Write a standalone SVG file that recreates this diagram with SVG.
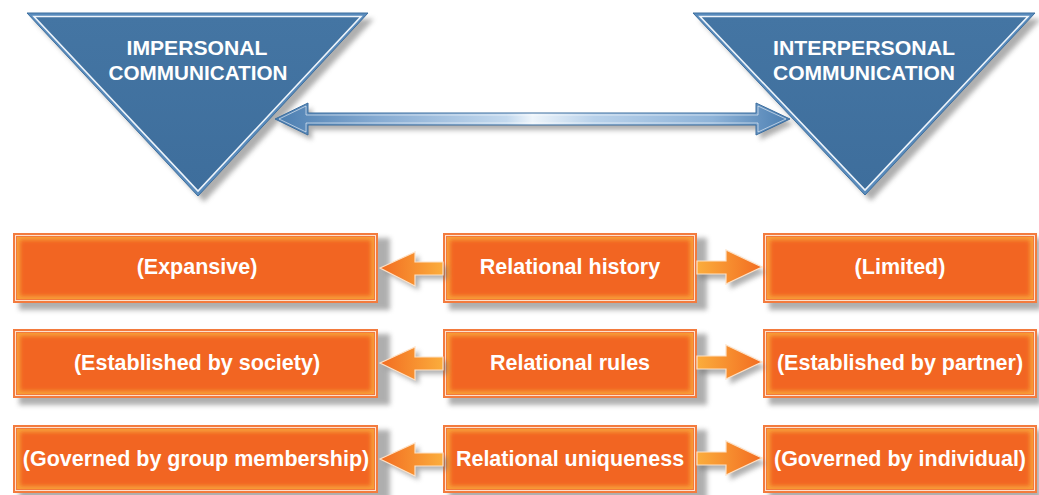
<svg xmlns="http://www.w3.org/2000/svg" width="1039" height="495" viewBox="0 0 1039 495">
  <style>
    .tri-text{font-family:"Liberation Sans",Arial,sans-serif;font-weight:bold;font-size:21px;fill:#ffffff;text-anchor:middle}
    .lbl{font-family:"Liberation Sans",Arial,sans-serif;font-weight:bold;font-size:21.5px;fill:#ffffff;text-anchor:middle}
    .shadow{fill:#6d6d6d;opacity:0.55;filter:url(#blur3)}
    .tri-outer{fill:#5a8cbd;stroke:#3d6f9f;stroke-width:1}
    .tri-inner{fill:url(#blueFill);stroke:#eef4fa;stroke-width:1.6}
    .box-outer{fill:#f37b3e}
    .box-line{fill:none;stroke:#fde3cf;stroke-width:1}
    .box-glow{fill:#f8a03a}
    .box-core{fill:#f26522;filter:url(#blur2)}
    .oarrow{fill:url(#orangeL);stroke:#fde1c6;stroke-width:1.2}
    .oarrowR{fill:url(#orangeR);stroke:#fde1c6;stroke-width:1.2}
  </style>
  <defs>
    <filter id="blur3" x="-20%" y="-20%" width="140%" height="140%">
      <feGaussianBlur stdDeviation="2.5"/>
    </filter>
    <filter id="blur2" x="-10%" y="-30%" width="120%" height="160%">
      <feGaussianBlur stdDeviation="2"/>
    </filter>
    <linearGradient id="blueFill" x1="0" y1="0" x2="0" y2="1">
      <stop offset="0" stop-color="#4475a3"/>
      <stop offset="1" stop-color="#3e6e9c"/>
    </linearGradient>
    <linearGradient id="dblArrow" x1="0" y1="0" x2="1" y2="0">
      <stop offset="0" stop-color="#4a7db0"/>
      <stop offset="0.2" stop-color="#86abd2"/>
      <stop offset="0.45" stop-color="#c3d9ee"/>
      <stop offset="0.5" stop-color="#eef5fb"/>
      <stop offset="0.62" stop-color="#b8d1ea"/>
      <stop offset="0.85" stop-color="#8eb3d8"/>
      <stop offset="1" stop-color="#4b7eb1"/>
    </linearGradient>
    <linearGradient id="orangeL" x1="0" y1="0" x2="1" y2="0">
      <stop offset="0" stop-color="#f26c21"/>
      <stop offset="1" stop-color="#fbad3c"/>
    </linearGradient>
    <linearGradient id="orangeR" x1="0" y1="0" x2="1" y2="0">
      <stop offset="0" stop-color="#fbad3c"/>
      <stop offset="1" stop-color="#f26c21"/>
    </linearGradient>
  </defs>

  <!-- Triangles -->
  <g id="node-impersonal">
    <polygon class="shadow" points="33,19 374,19 204,202"/>
    <polygon class="tri-outer" points="27,13 368,13 198,196"/>
    <polygon class="tri-inner" points="34,16.5 361,16.5 198,191"/>
    <text class="tri-text" x="197" y="55" textLength="141" lengthAdjust="spacingAndGlyphs">IMPERSONAL</text>
    <text class="tri-text" x="198" y="80" textLength="179" lengthAdjust="spacingAndGlyphs">COMMUNICATION</text>
  </g>
  <g id="node-interpersonal">
    <polygon class="shadow" points="699,19 1041,19 871,201"/>
    <polygon class="tri-outer" points="693,13 1035,13 865,195"/>
    <polygon class="tri-inner" points="700,16.5 1028,16.5 865,190"/>
    <text class="tri-text" x="864" y="55" textLength="182" lengthAdjust="spacingAndGlyphs">INTERPERSONAL</text>
    <text class="tri-text" x="864" y="80" textLength="182" lengthAdjust="spacingAndGlyphs">COMMUNICATION</text>
  </g>

  <!-- Orange boxes: row 1 -->
  <g id="node-expansive">
    <rect class="shadow" x="19" y="238" width="371" height="72"/>
    <rect class="box-outer" x="13" y="233" width="365" height="70"/>
    <rect class="box-line" x="15.5" y="235.5" width="360" height="65"/>
    <rect class="box-glow" x="17" y="237" width="357" height="62"/>
    <rect class="box-core" x="20" y="240" width="351" height="56"/>
    <text class="lbl" x="197" y="274">(Expansive)</text>
  </g>
  <g id="node-history">
    <rect class="shadow" x="449" y="238" width="258" height="72"/>
    <rect class="box-outer" x="443" y="233" width="254" height="70"/>
    <rect class="box-line" x="445.5" y="235.5" width="249" height="65"/>
    <rect class="box-glow" x="447" y="237" width="246" height="62"/>
    <rect class="box-core" x="450" y="240" width="240" height="56"/>
    <text class="lbl" x="570" y="274">Relational history</text>
  </g>
  <g id="node-limited">
    <rect class="shadow" x="769" y="238" width="272" height="72"/>
    <rect class="box-outer" x="763" y="233" width="274" height="70"/>
    <rect class="box-line" x="765.5" y="235.5" width="269" height="65"/>
    <rect class="box-glow" x="767" y="237" width="266" height="62"/>
    <rect class="box-core" x="770" y="240" width="260" height="56"/>
    <text class="lbl" x="900" y="274">(Limited)</text>
  </g>

  <!-- Row 2 -->
  <g id="node-society">
    <rect class="shadow" x="19" y="334" width="371" height="71"/>
    <rect class="box-outer" x="13" y="329" width="365" height="69"/>
    <rect class="box-line" x="15.5" y="331.5" width="360" height="64"/>
    <rect class="box-glow" x="17" y="333" width="357" height="61"/>
    <rect class="box-core" x="20" y="336" width="351" height="55"/>
    <text class="lbl" x="197" y="370">(Established by society)</text>
  </g>
  <g id="node-rules">
    <rect class="shadow" x="449" y="334" width="258" height="71"/>
    <rect class="box-outer" x="443" y="329" width="254" height="69"/>
    <rect class="box-line" x="445.5" y="331.5" width="249" height="64"/>
    <rect class="box-glow" x="447" y="333" width="246" height="61"/>
    <rect class="box-core" x="450" y="336" width="240" height="55"/>
    <text class="lbl" x="570" y="370">Relational rules</text>
  </g>
  <g id="node-partner">
    <rect class="shadow" x="769" y="334" width="272" height="71"/>
    <rect class="box-outer" x="763" y="329" width="274" height="69"/>
    <rect class="box-line" x="765.5" y="331.5" width="269" height="64"/>
    <rect class="box-glow" x="767" y="333" width="266" height="61"/>
    <rect class="box-core" x="770" y="336" width="260" height="55"/>
    <text class="lbl" x="900" y="370">(Established by partner)</text>
  </g>

  <!-- Row 3 -->
  <g id="node-group">
    <rect class="shadow" x="19" y="430" width="371" height="70"/>
    <rect class="box-outer" x="13" y="425" width="365" height="68"/>
    <rect class="box-line" x="15.5" y="427.5" width="360" height="63"/>
    <rect class="box-glow" x="17" y="429" width="357" height="60"/>
    <rect class="box-core" x="20" y="432" width="351" height="54"/>
    <text class="lbl" x="196" y="466">(Governed by group membership)</text>
  </g>
  <g id="node-uniqueness">
    <rect class="shadow" x="449" y="430" width="258" height="70"/>
    <rect class="box-outer" x="443" y="425" width="254" height="68"/>
    <rect class="box-line" x="445.5" y="427.5" width="249" height="63"/>
    <rect class="box-glow" x="447" y="429" width="246" height="60"/>
    <rect class="box-core" x="450" y="432" width="240" height="54"/>
    <text class="lbl" x="570" y="466">Relational uniqueness</text>
  </g>
  <g id="node-individual">
    <rect class="shadow" x="769" y="430" width="272" height="70"/>
    <rect class="box-outer" x="763" y="425" width="274" height="68"/>
    <rect class="box-line" x="765.5" y="427.5" width="269" height="63"/>
    <rect class="box-glow" x="767" y="429" width="266" height="60"/>
    <rect class="box-core" x="770" y="432" width="260" height="54"/>
    <text class="lbl" x="900" y="466">(Governed by individual)</text>
  </g>

  <!-- Connectors -->
  <g id="connectors">
    <polygon class="shadow" points="279,124 312,108 312,118 760,118 760,108 794,124 760,140 760,130 312,130 312,140"/>
    <polygon points="275,119 308,103 308,113 756,113 756,103 790,119 756,135 756,125 308,125 308,135" fill="url(#dblArrow)" stroke="#3c6e9f" stroke-width="1"/>
    <polygon points="279,119 306,106 306,115 758,115 758,106 786,119 758,132 758,123 306,123 306,132" fill="none" stroke="#ffffff" stroke-opacity="0.7" stroke-width="0.8"/>

    <!-- row 1 -->
    <polygon class="shadow" points="384,272 419,256 419,266 447,266 447,279 419,279 419,290"/>
    <polygon class="oarrow" points="380,268 415,252 415,262 443,262 443,275 415,275 415,286"/>
    <polygon class="shadow" points="699,266 730,266 730,255 766,272 730,289 730,279 699,279"/>
    <polygon class="oarrowR" points="697,261 726,261 726,250 762,267 726,284 726,274 697,274"/>

    <!-- row 2 -->
    <polygon class="shadow" points="384,367 419,351 419,361 447,361 447,374 419,374 419,384"/>
    <polygon class="oarrow" points="380,363 415,347 415,357 443,357 443,370 415,370 415,380"/>
    <polygon class="shadow" points="699,361 730,361 730,350 766,367 730,384 730,374 699,374"/>
    <polygon class="oarrowR" points="697,356 726,356 726,345 762,362 726,379 726,369 697,369"/>

    <!-- row 3 -->
    <polygon class="shadow" points="384,463 419,447 419,457 447,457 447,470 419,470 419,480"/>
    <polygon class="oarrow" points="380,459 415,443 415,453 443,453 443,466 415,466 415,476"/>
    <polygon class="shadow" points="699,457 730,457 730,446 766,463 730,480 730,470 699,470"/>
    <polygon class="oarrowR" points="697,452 726,452 726,441 762,458 726,475 726,465 697,465"/>
  </g>
</svg>
